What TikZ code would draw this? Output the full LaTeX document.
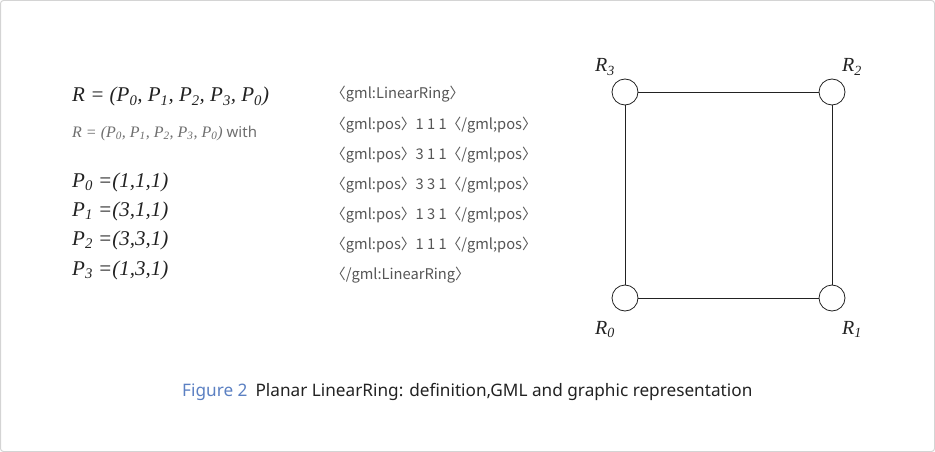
\documentclass[tikz,border=0pt]{standalone}
\usepackage{fontspec}
\setmainfont{Liberation Serif}
\newfontfamily\gmlfont{Noto Sans CJK KR}
\newfontfamily\capfont{Noto Sans}
\newfontfamily\withfont{Noto Sans}
\definecolor{frame}{HTML}{D4D4D4}
\definecolor{ink}{HTML}{222222}
\definecolor{gmlgrey}{HTML}{555555}
\definecolor{softgrey}{HTML}{6E6E6E}
\definecolor{capblue}{HTML}{5B80C2}
\definecolor{capdark}{HTML}{222222}
\newcommand{\sub}[1]{\textsubscript{#1}}
\begin{document}
\begin{tikzpicture}[x=1pt,y=-1pt,
  mathtext/.style={anchor=base west,inner sep=0pt,text=ink,font=\fontsize{21}{25}\selectfont\itshape},
  smalltext/.style={anchor=base west,inner sep=0pt,text=softgrey,font=\fontsize{16}{19}\selectfont\itshape},
  gmltext/.style={anchor=base west,inner sep=0pt,text=gmlgrey,font=\fontsize{14.7}{17}\selectfont\gmlfont},
  vertex/.style={circle,draw=ink,line width=0.8pt,fill=white,minimum size=26pt,inner sep=0pt},
  edge/.style={draw=ink,line width=0.8pt},
  rlabel/.style={anchor=base west,inner sep=0pt,text=ink,font=\fontsize{20}{24}\selectfont\itshape}]
\useasboundingbox (0,0) rectangle (935,452);
\draw[frame,line width=1pt,rounded corners=3pt] (0.5,0.5) rectangle (934.5,451.5);
% left definitions
\node[mathtext] (rdef) at (72,102) {R = (P\sub{0}, P\sub{1}, P\sub{2}, P\sub{3}, P\sub{0})};
\node[smalltext] (rwith) at (72,137) {R = (P\sub{0}, P\sub{1}, P\sub{2}, P\sub{3}, P\sub{0}){\upshape\withfont\fontsize{15}{18}\selectfont\ with}};
\node[mathtext] (p0) at (72,187) {P\sub{0} =(1,1,1)};
\node[mathtext] (p1) at (72,216) {P\sub{1} =(3,1,1)};
\node[mathtext] (p2) at (72,245.5) {P\sub{2} =(3,3,1)};
\node[mathtext] (p3) at (72,275) {P\sub{3} =(1,3,1)};
% GML
\node[gmltext] (g1) at (331,99) {〈gml:LinearRing〉};
\node[gmltext] (g2) at (331,129) {〈gml:pos〉1 1 1〈/gml;pos〉};
\node[gmltext] (g3) at (331,159) {〈gml:pos〉3 1 1〈/gml;pos〉};
\node[gmltext] (g4) at (331,189) {〈gml:pos〉3 3 1〈/gml;pos〉};
\node[gmltext] (g5) at (331,219) {〈gml:pos〉1 3 1〈/gml;pos〉};
\node[gmltext] (g6) at (331,249) {〈gml:pos〉1 1 1〈/gml;pos〉};
\node[gmltext] (g7) at (331,279) {〈/gml:LinearRing〉};
% ring
\node[vertex] (r3) at (625,92) {};
\node[vertex] (r2) at (832,92) {};
\node[vertex] (r0) at (625,298) {};
\node[vertex] (r1) at (832,298) {};
\draw[edge] (r3) -- (r2);
\draw[edge] (r2) -- (r1);
\draw[edge] (r1) -- (r0);
\draw[edge] (r0) -- (r3);
\node[rlabel] (l3) at (595,72) {R\sub{3}};
\node[rlabel] (l2) at (842,72) {R\sub{2}};
\node[rlabel] (l0) at (595,334) {R\sub{0}};
\node[rlabel] (l1) at (842,334) {R\sub{1}};
% caption
\node[anchor=base west,inner sep=0pt,font=\fontsize{17.2}{20}\selectfont\capfont] (cap) at (182,396) {\textcolor{capblue}{Figure 2}\hspace{8pt}\textcolor{capdark}{Planar LinearRing: definition,GML and graphic representation}};
\end{tikzpicture}
\end{document}
